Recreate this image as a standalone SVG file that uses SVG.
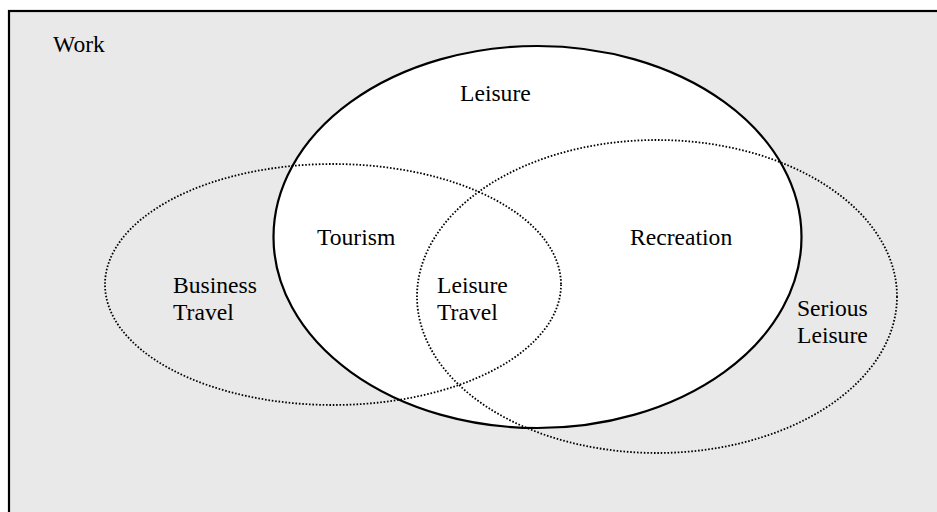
<svg xmlns="http://www.w3.org/2000/svg" width="937" height="512" viewBox="0 0 937 512" font-family="Liberation Serif, 'Times New Roman', 'DejaVu Serif', serif">
<style>
text{font-family:'Liberation Serif','Times New Roman','DejaVu Serif',serif;font-size:23.6px;fill:#000}
.dot{fill:none;stroke:#000;stroke-width:1.8;stroke-dasharray:1.6 1.8}
</style>
<rect x="0" y="0" width="937" height="512" fill="#fff"/>
<g id="work">
<rect x="9" y="11" width="940" height="520" fill="#e9e9e9" stroke="#000" stroke-width="2.2"/>
<text x="53" y="52">Work</text>
</g>
<g id="leisure">
<ellipse cx="537.5" cy="237" rx="264" ry="191" fill="#fff" stroke="#000" stroke-width="2.2"/>
<text x="460" y="100.5">Leisure</text>
</g>
<g id="business-travel">
<ellipse class="dot" cx="333" cy="284.5" rx="228" ry="120.5"/>
<text x="173" y="292.5">Business</text>
<text x="173" y="319.5">Travel</text>
</g>
<g id="serious-leisure">
<ellipse class="dot" cx="657" cy="296.5" rx="240" ry="156.5"/>
<text x="797" y="315.5">Serious</text>
<text x="797" y="343">Leisure</text>
</g>
<g id="tourism"><text x="317" y="244.5">Tourism</text></g>
<g id="recreation"><text x="630" y="244.5">Recreation</text></g>
<g id="leisure-travel">
<text x="437" y="292.5">Leisure</text>
<text x="437" y="319.5">Travel</text>
</g>
<g id="connectors"></g>
</svg>
